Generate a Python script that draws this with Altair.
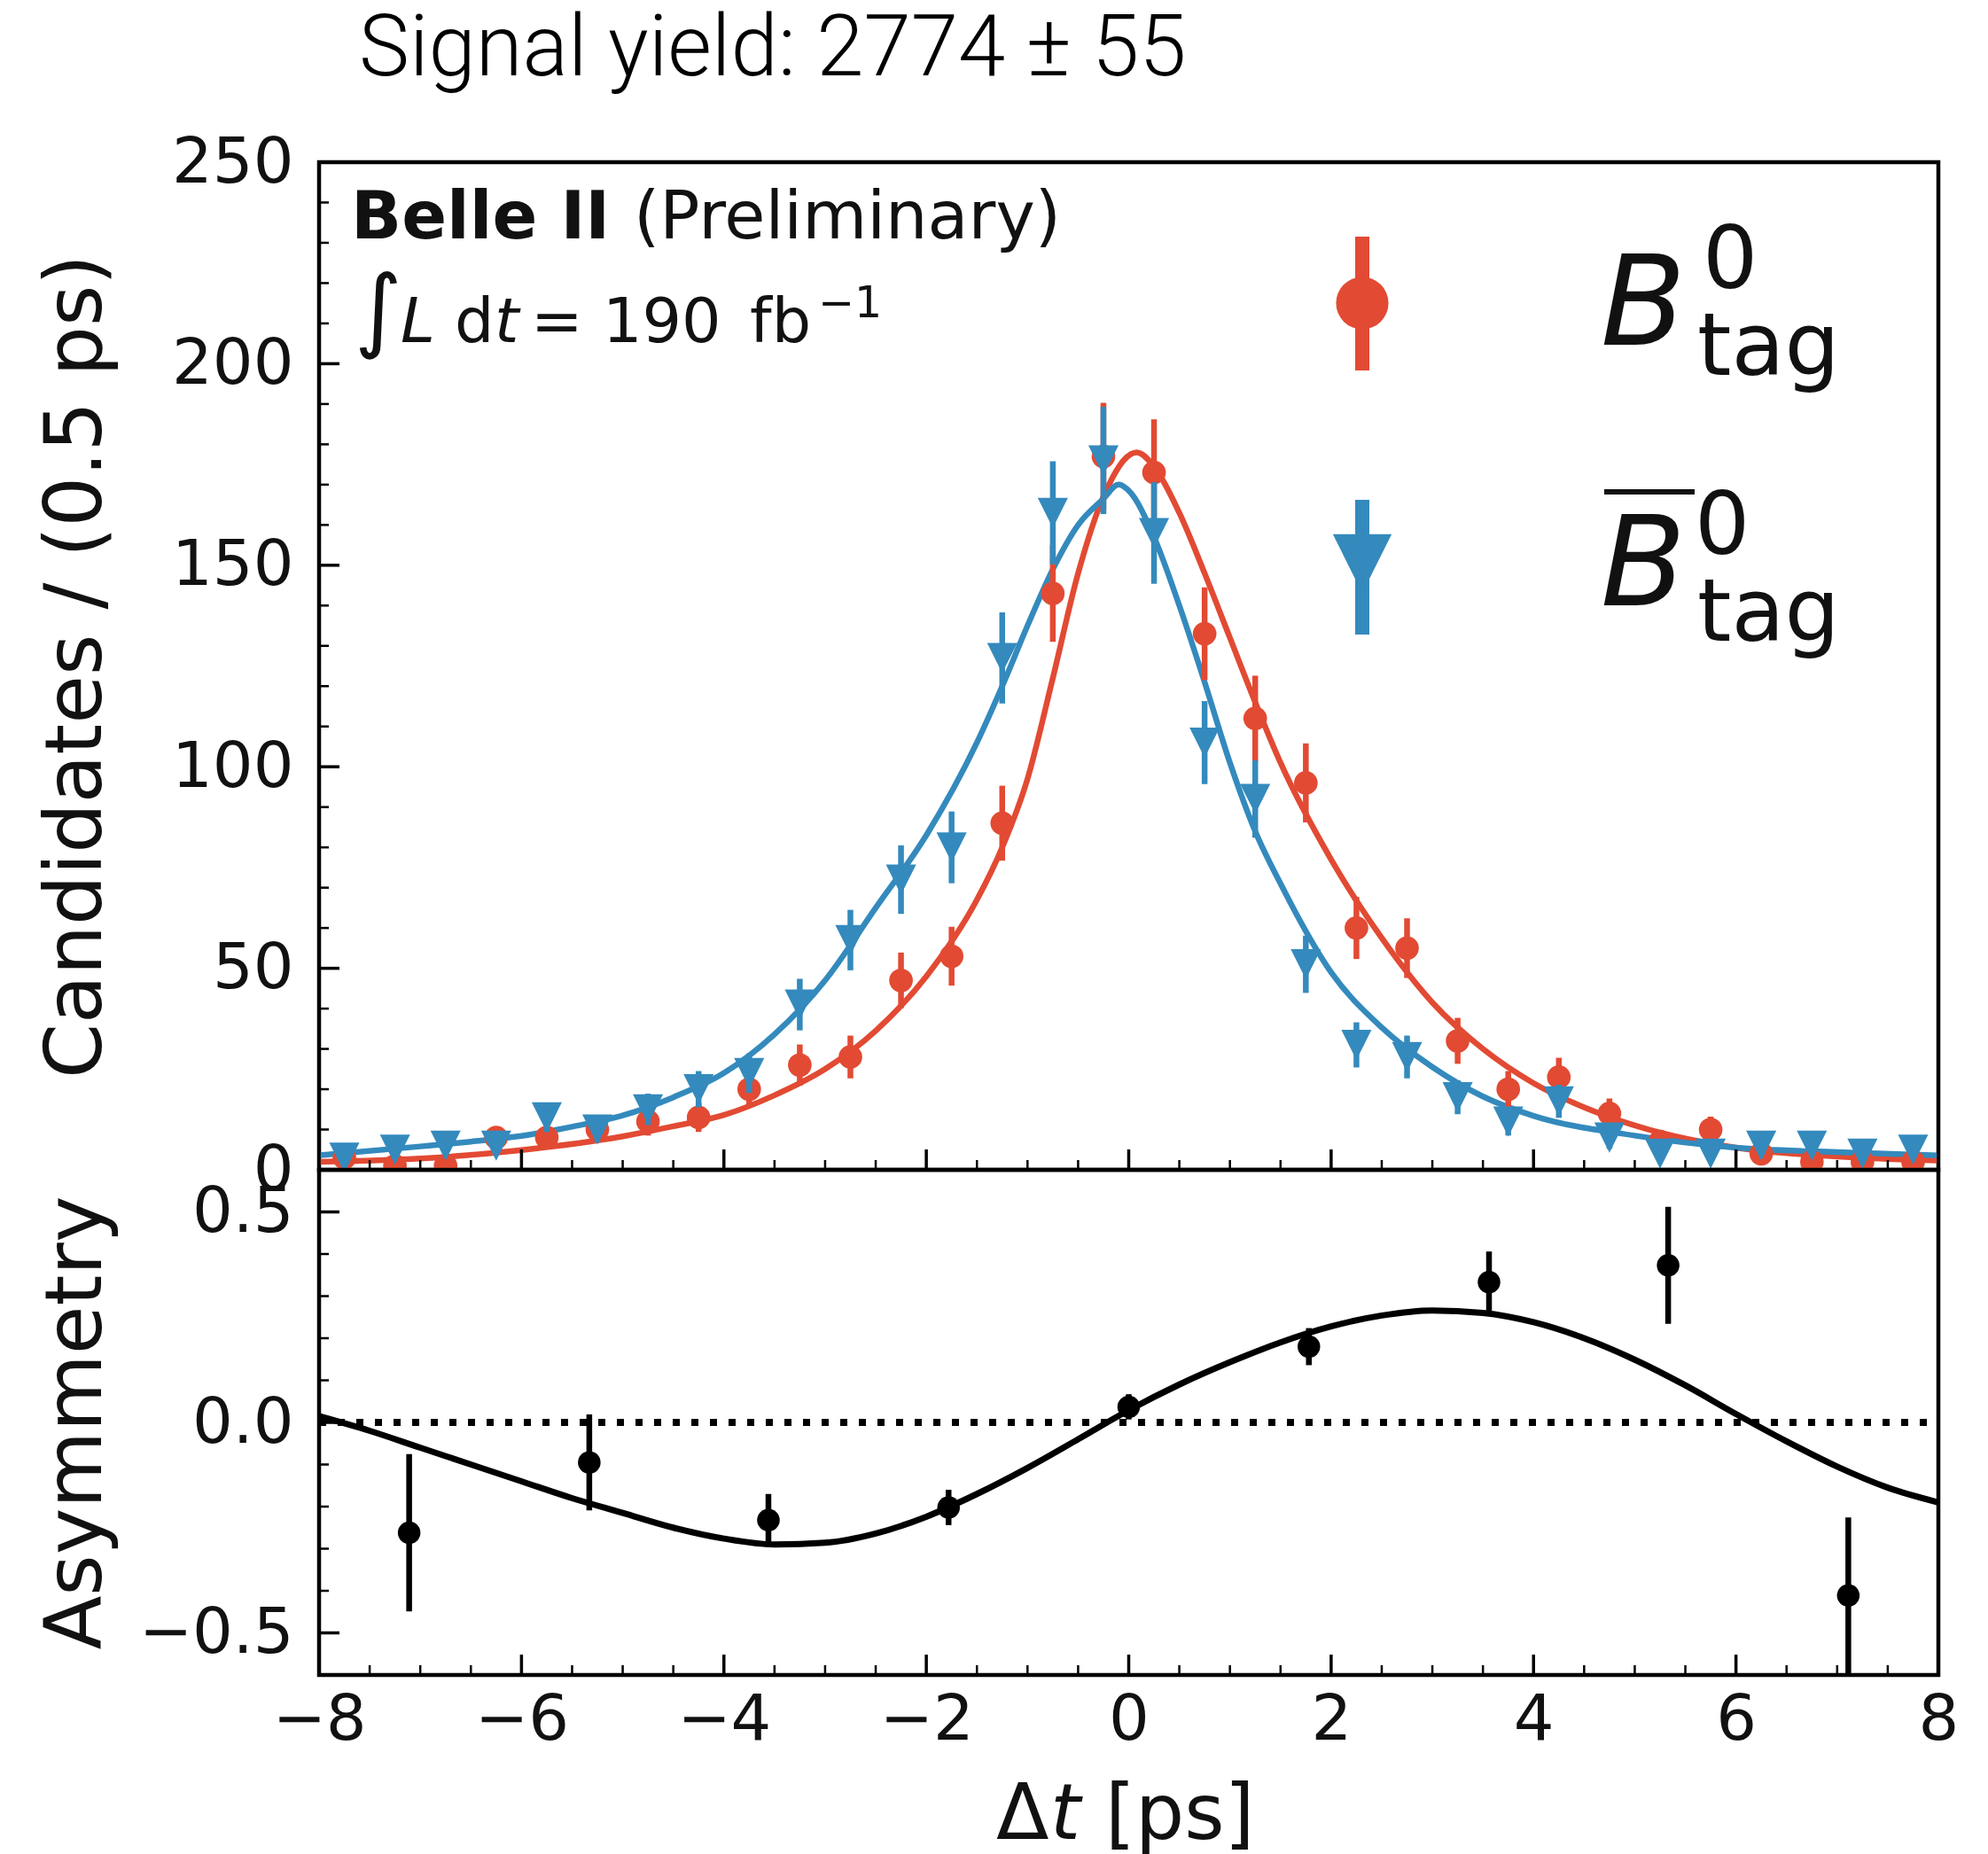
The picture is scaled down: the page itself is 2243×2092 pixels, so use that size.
import altair as alt
import pandas as pd

RED = "#E24A33"
BLUE = "#348ABD"
INK = "#111111"
FONT = "DejaVu Sans"

W = 1827
H_TOP = 1137
H_BOT = 570

# ---------------- data ----------------
bin_centers = [-7.75, -7.25, -6.75, -6.25, -5.75, -5.25, -4.75, -4.25, -3.75, -3.25,
               -2.75, -2.25, -1.75, -1.25, -0.75, -0.25, 0.25, 0.75, 1.25, 1.75,
               2.25, 2.75, 3.25, 3.75, 4.25, 4.75, 5.25, 5.75, 6.25, 6.75, 7.25, 7.75]
b0_counts = [3, 1, 1, 8, 8, 10, 12, 13, 20, 26, 28, 47, 53, 86, 143, 177,
             173, 133, 112, 96, 60, 55, 32, 20, 23, 14, 7, 10, 4, 2, 2, 2]
b0_errors = [1.7, 1.0, 1.0, 2.8, 2.8, 3.2, 3.5, 3.6, 4.5, 5.1, 5.3, 6.9, 7.3, 9.3, 12.0, 13.3,
             13.2, 11.5, 10.6, 9.8, 7.7, 7.4, 5.7, 4.5, 4.8, 3.7, 2.6, 3.2, 2.0, 1.4, 1.4, 1.4]
b0bar_counts = [3, 5, 6, 6, 13, 10, 15, 20, 24, 41, 57, 72, 80, 127, 163, 176,
                158, 106, 92, 51, 31, 28, 18, 12, 17, 8, 4, 4, 6, 6, 4, 5]
b0bar_errors = [1.7, 2.2, 2.4, 2.4, 3.6, 3.2, 3.9, 4.5, 4.9, 6.4, 7.5, 8.5, 8.9, 11.3, 12.8, 13.3,
                12.6, 10.3, 9.6, 7.1, 5.6, 5.3, 4.2, 3.5, 4.1, 2.8, 2.0, 2.0, 2.4, 2.4, 2.0, 2.2]

b0_fit_x = [-8, -7, -6, -5, -4.5, -4, -3.5, -3, -2.5, -2, -1.5, -1.25, -1, -0.75, -0.5, -0.25, 0.08,
            0.25, 0.5, 0.75, 1.0, 1.25, 1.5, 2.0, 2.5, 3.0, 3.5, 4.0, 4.5, 5.0, 6.0, 7.0, 8.0]
b0_fit_y = [2.0, 2.8, 4.9, 8.3, 10.8, 13.6, 18.5, 25.0, 34.5, 48.0, 67.0, 80.0, 97.0, 122.0, 148.0, 167.0, 178.0,
            174.5, 163.0, 148.0, 132.0, 116.0, 101.0, 77.0, 57.5, 41.5, 30.0, 21.5, 15.5, 11.0, 5.5, 3.3, 2.3]
b0bar_fit_x = [-8, -7, -6.5, -6, -5.5, -5, -4.5, -4, -3.5, -3, -2.5, -2, -1.5, -1.25, -1, -0.75, -0.5, -0.25,
               -0.1, 0.0, 0.25, 0.5, 0.75, 1.0, 1.25, 1.5, 2.0, 2.5, 3.0, 3.5, 4.0, 5.0, 6.0, 7.0, 8.0]
b0bar_fit_y = [3.6, 5.8, 7.0, 8.4, 10.7, 13.5, 18.0, 24.0, 33.6, 47.0, 65.0, 83.0, 106.0, 120.0, 135.0, 149.0,
               160.0, 166.5, 170.0, 168.5, 157.0, 140.0, 121.0, 101.0, 84.0, 71.0, 49.0, 35.3, 25.5, 18.2,
               13.4, 8.5, 5.5, 4.4, 3.6]

asym_centers = [-7.11, -5.33, -3.56, -1.78, 0.0, 1.78, 3.56, 5.33, 7.11]
asym_values = [-0.262, -0.095, -0.232, -0.202, 0.037, 0.18, 0.333, 0.373, -0.411]
asym_errors = [0.187, 0.114, 0.062, 0.042, 0.03, 0.044, 0.073, 0.139, 0.185]

asym_fit_x = [-8, -7.5, -7, -6.5, -6, -5.5, -5, -4.5, -4, -3.5, -3, -2.5, -2, -1.5, -1, -0.5,
              0, 0.5, 1, 1.5, 2, 2.5, 3, 3.5, 4, 4.5, 5, 5.5, 6, 6.5, 7, 7.5, 8]
asym_fit_y = [0.015, -0.02, -0.06, -0.10, -0.14, -0.18, -0.215, -0.25, -0.276, -0.29, -0.286, -0.264,
              -0.224, -0.17, -0.108, -0.04, 0.029, 0.09, 0.143, 0.19, 0.228, 0.254, 0.266, 0.26,
              0.238, 0.2, 0.149, 0.088, 0.02, -0.045, -0.105, -0.155, -0.19]

x_major = [-8, -6, -4, -2, 0, 2, 4, 6, 8]
x_minor = [-7.5, -7, -6.5, -5.5, -5, -4.5, -3.5, -3, -2.5, -1.5, -1, -0.5,
           0.5, 1, 1.5, 2.5, 3, 3.5, 4.5, 5, 5.5, 6.5, 7, 7.5]
y_top_major = [0, 50, 100, 150, 200, 250]
y_top_minor = [10, 20, 30, 40, 60, 70, 80, 90, 110, 120, 130, 140, 160, 170, 180, 190, 210, 220, 230, 240]
y_bot_major = [-0.5, 0.0, 0.5]
y_bot_minor = [-0.4, -0.3, -0.2, -0.1, 0.1, 0.2, 0.3, 0.4]

# ---------------- tables ----------------
b0_df = pd.DataFrame({"x": bin_centers, "n": b0_counts, "e": b0_errors})
b0_df["lo"] = b0_df["n"] - b0_df["e"]
b0_df["hi"] = b0_df["n"] + b0_df["e"]
b0bar_df = pd.DataFrame({"x": bin_centers, "n": b0bar_counts, "e": b0bar_errors})
b0bar_df["lo"] = b0bar_df["n"] - b0bar_df["e"]
b0bar_df["hi"] = b0bar_df["n"] + b0bar_df["e"]
b0_fit_df = pd.DataFrame({"x": b0_fit_x, "n": b0_fit_y})
b0bar_fit_df = pd.DataFrame({"x": b0bar_fit_x, "n": b0bar_fit_y})
asym_df = pd.DataFrame({"x": asym_centers, "a": asym_values, "e": asym_errors})
asym_df["lo"] = asym_df["a"] - asym_df["e"]
asym_df["hi"] = asym_df["a"] + asym_df["e"]
asym_fit_df = pd.DataFrame({"x": asym_fit_x, "a": asym_fit_y})

x_scale = alt.Scale(domain=[-8, 8], nice=False, zero=False)
y_top_scale = alt.Scale(domain=[0, 250], nice=False, zero=False)
y_bot_scale = alt.Scale(domain=[-0.6, 0.6], nice=False, zero=False)

label_common = dict(labelFont=FONT, labelFontSize=72, labelColor=INK, ticks=False,
                    domain=False, grid=False, labelFlush=False, labelOverlap=False)

y_top_axis = alt.Axis(values=y_top_major, format="d", labelPadding=29,
                      title="Candidates / (0.5 ps)", titleFont=FONT, titleFontSize=89,
                      titleFontWeight="normal", titleColor=INK, titleAngle=270,
                      titleX=-247, titleY=H_TOP / 2, titleAlign="center",
                      titleBaseline="alphabetic", **label_common)
y_bot_axis = alt.Axis(values=y_bot_major, format=".1f", labelPadding=29,
                      title="Asymmetry", titleFont=FONT, titleFontSize=89,
                      titleFontWeight="normal", titleColor=INK, titleAngle=270,
                      titleX=-247, titleY=H_BOT / 2, titleAlign="center",
                      titleBaseline="alphabetic", **label_common)
x_bot_axis = alt.Axis(values=x_major, format="d", labelPadding=15, title=None, **label_common)

X_top = lambda f: alt.X(f, type="quantitative", scale=x_scale, axis=None)
Y_top = lambda f: alt.Y(f, type="quantitative", scale=y_top_scale, axis=y_top_axis)
X_bot = lambda f: alt.X(f, type="quantitative", scale=x_scale, axis=x_bot_axis)
Y_bot = lambda f: alt.Y(f, type="quantitative", scale=y_bot_scale, axis=y_bot_axis)


def txt(text, x, y, size, weight="normal", style="normal", font=FONT, color=INK):
    return alt.Chart(pd.DataFrame({"t": [text]})).mark_text(
        font=font, fontSize=size, fontWeight=weight, fontStyle=style,
        align="left", baseline="alphabetic", color=color
    ).encode(text="t:N", x=alt.value(x), y=alt.value(y))


TRI = "M-1,-1L1,-1L0,1Z"
LW = 6.5

# ---------------- top panel ----------------
b0_line = alt.Chart(b0_fit_df).mark_line(color=RED, strokeWidth=LW, clip=True,
                                         interpolate="monotone").encode(x=X_top("x"), y=Y_top("n"))
b0bar_line = alt.Chart(b0bar_fit_df).mark_line(color=BLUE, strokeWidth=LW, clip=True,
                                               interpolate="monotone").encode(x=X_top("x"), y=Y_top("n"))
b0_bars = alt.Chart(b0_df).mark_rule(color=RED, strokeWidth=LW, clip=True).encode(
    x=X_top("x"), y=Y_top("lo"), y2="hi")
b0_pts = alt.Chart(b0_df).mark_point(shape="circle", filled=True, opacity=1, size=710,
                                     color=RED, clip=True).encode(x=X_top("x"), y=Y_top("n"))
b0bar_bars = alt.Chart(b0bar_df).mark_rule(color=BLUE, strokeWidth=LW, clip=True).encode(
    x=X_top("x"), y=Y_top("lo"), y2="hi")
b0bar_pts = alt.Chart(b0bar_df).mark_point(shape=TRI, filled=True, opacity=1, size=1160,
                                           color=BLUE, clip=True).encode(x=X_top("x"), y=Y_top("n"))

top_xmaj = alt.Chart(pd.DataFrame({"v": x_major})).mark_rule(color="black", strokeWidth=3.5).encode(
    x=X_top("v"), y=alt.value(H_TOP), y2=alt.value(H_TOP - 23))
top_xmin = alt.Chart(pd.DataFrame({"v": x_minor})).mark_rule(color="black", strokeWidth=2.5).encode(
    x=X_top("v"), y=alt.value(H_TOP), y2=alt.value(H_TOP - 11))
top_ymaj = alt.Chart(pd.DataFrame({"v": y_top_major})).mark_rule(color="black", strokeWidth=3.5).encode(
    y=Y_top("v"), x=alt.value(0), x2=alt.value(23))
top_ymin = alt.Chart(pd.DataFrame({"v": y_top_minor})).mark_rule(color="black", strokeWidth=2.5).encode(
    y=Y_top("v"), x=alt.value(0), x2=alt.value(11))

leg_one = pd.DataFrame({"k": [0]})
leg_red_bar = alt.Chart(leg_one).mark_rule(color=RED, strokeWidth=16).encode(
    x=alt.value(1177), y=alt.value(84), y2=alt.value(235))
leg_red_pt = alt.Chart(leg_one).mark_point(shape="circle", filled=True, opacity=1, size=3500,
                                           color=RED).encode(x=alt.value(1177), y=alt.value(159))
leg_blue_bar = alt.Chart(leg_one).mark_rule(color=BLUE, strokeWidth=16).encode(
    x=alt.value(1177), y=alt.value(381), y2=alt.value(533))
leg_blue_pt = alt.Chart(leg_one).mark_point(shape=TRI, filled=True, opacity=1, size=4400,
                                            color=BLUE).encode(x=alt.value(1177), y=alt.value(453))
leg_overline = alt.Chart(leg_one).mark_rule(color=INK, strokeWidth=6).encode(
    x=alt.value(1450), x2=alt.value(1552), y=alt.value(372))

top_texts = [
    txt("Signal yield: 2774 \u00b1 55", 45, -98, 96, weight=300, font="Roboto", color="#000000"),
    txt("Belle II", 36, 86, 75, weight="bold"),
    txt("(Preliminary)", 355, 86, 75),
    txt("\u222b", 40, 201, 103),
    txt("L", 92, 203, 70, style="italic"),
    txt("d", 153, 203, 70),
    txt("t", 198, 203, 70, style="italic"),
    txt("= 190", 239, 203, 70),
    txt("fb", 486, 203, 70),
    txt("\u22121", 563, 175, 49),
    txt("B", 1446, 206, 140, style="italic"),
    txt("0", 1561, 142, 98),
    txt("tag", 1555, 240, 98),
    txt("B", 1446, 500, 140, style="italic"),
    txt("0", 1552, 442, 98),
    txt("tag", 1555, 540, 98),
]

top = alt.layer(
    b0_line, b0bar_line, b0_bars, b0_pts, b0bar_bars, b0bar_pts,
    top_xmaj, top_xmin, top_ymaj, top_ymin,
    leg_red_bar, leg_red_pt, leg_blue_bar, leg_blue_pt, leg_overline,
    *top_texts
).properties(width=W, height=H_TOP)

# ---------------- bottom panel ----------------
zero_line = alt.Chart(pd.DataFrame({"v": [0.0]})).mark_rule(
    color="black", strokeWidth=8, strokeDash=[8, 13]).encode(
    y=Y_bot("v"), x=alt.value(0), x2=alt.value(W))
asym_line = alt.Chart(asym_fit_df).mark_line(color="black", strokeWidth=7, clip=True,
                                             interpolate="monotone").encode(x=X_bot("x"), y=Y_bot("a"))
asym_bars = alt.Chart(asym_df).mark_rule(color="black", strokeWidth=LW, clip=True).encode(
    x=X_bot("x"), y=Y_bot("lo"), y2="hi")
asym_pts = alt.Chart(asym_df).mark_point(shape="circle", filled=True, opacity=1, size=650,
                                         color="black", clip=True).encode(x=X_bot("x"), y=Y_bot("a"))

bot_xmaj = alt.Chart(pd.DataFrame({"v": x_major})).mark_rule(color="black", strokeWidth=3.5).encode(
    x=X_bot("v"), y=alt.value(H_BOT), y2=alt.value(H_BOT - 23))
bot_xmin = alt.Chart(pd.DataFrame({"v": x_minor})).mark_rule(color="black", strokeWidth=2.5).encode(
    x=X_bot("v"), y=alt.value(H_BOT), y2=alt.value(H_BOT - 11))
bot_ymaj = alt.Chart(pd.DataFrame({"v": y_bot_major})).mark_rule(color="black", strokeWidth=3.5).encode(
    y=Y_bot("v"), x=alt.value(0), x2=alt.value(23))
bot_ymin = alt.Chart(pd.DataFrame({"v": y_bot_minor})).mark_rule(color="black", strokeWidth=2.5).encode(
    y=Y_bot("v"), x=alt.value(0), x2=alt.value(11))

bot_texts = [
    txt("\u0394", 764, 755, 87),
    txt("t", 825, 755, 87, style="italic"),
    txt("[ps]", 887, 755, 87),
]

bottom = alt.layer(
    zero_line, asym_line, asym_bars, asym_pts,
    bot_xmaj, bot_xmin, bot_ymaj, bot_ymin, *bot_texts
).properties(width=W, height=H_BOT)

chart = alt.vconcat(top, bottom, spacing=0, bounds="flush").properties(
    padding={"left": 39, "top": 5, "right": 0, "bottom": 0},
    background="white",
).configure_view(stroke="black", strokeWidth=4.5)

chart.save("out.html", embed_options={"renderer": "svg", "actions": False})
